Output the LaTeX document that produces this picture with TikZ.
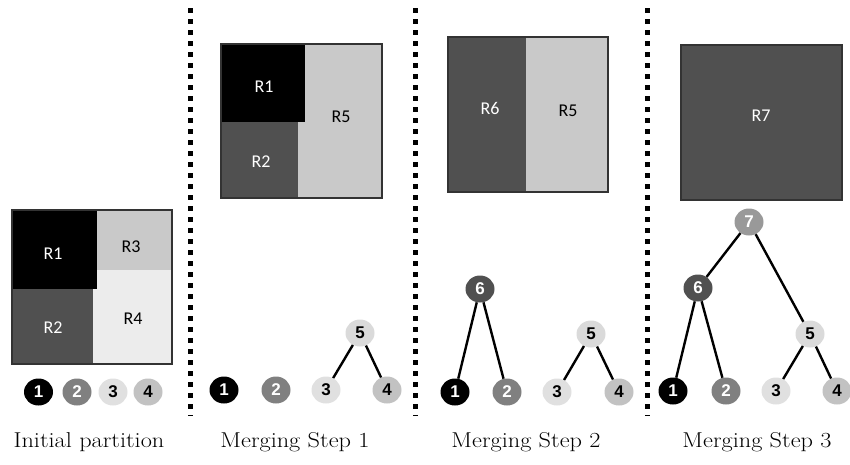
\documentclass[tikz,border=0pt]{standalone}
\usepackage{fontspec}
\newfontfamily\regionfont{Carlito}
\newfontfamily\digitfont{Liberation Sans}
\usetikzlibrary{shapes.geometric}
\definecolor{cBlack}{HTML}{000000}
\definecolor{cDark}{HTML}{505050}
\definecolor{cMid}{HTML}{808080}
\definecolor{cSeven}{HTML}{999999}
\definecolor{cLight}{HTML}{C9C9C9}
\definecolor{cPale}{HTML}{ECECEC}
\definecolor{cThree}{HTML}{E0E0E0}
\definecolor{cFour}{HTML}{C2C2C2}
\definecolor{cFive}{HTML}{DADADA}
\definecolor{cEdge}{HTML}{333333}
\newcommand{\capwide}[1]{\scalebox{1.13}[1]{#1}}
\tikzset{
  region/.style={inner sep=0pt, font=\regionfont\fontsize{18}{18}\selectfont},
  frame/.style={draw=cEdge, line width=1.4pt},
  tnode/.style={ellipse, minimum width=29pt, minimum height=27pt, inner sep=0pt,
    font=\digitfont\bfseries\fontsize{17}{17}\selectfont},
  edge/.style={line width=2.4pt, black},
  sep/.style={line width=5pt, dash pattern=on 5pt off 6pt, black},
  caption/.style={font=\fontsize{21.5}{24}\selectfont, anchor=base}
}
\begin{document}
\begin{tikzpicture}[x=1pt, y=-1pt]
\useasboundingbox (0,0) rectangle (850,464);

% separators between the four stages
\foreach \sx/\nm in {190/a, 415/b, 647/c} {
  \coordinate (sep\nm top) at (\sx,8);
  \coordinate (sep\nm bot) at (\sx,416);
  \draw[sep] (sep\nm top) -- (sep\nm bot);
}

% ---------- initial partition ----------
\fill[cPale] (93,270) rectangle (172,364);
\fill[cLight] (97,210) rectangle (172,270);
\fill[cDark] (12,289) rectangle (93,364);
\fill[cBlack] (12,210) rectangle (97,289);
\draw[frame] (12,210) rectangle (172,364);
\node[region, white] (iR1) at (53,254) {R1};
\node[region, black] (iR3) at (131,247) {R3};
\node[region, white] (iR2) at (53,328) {R2};
\node[region, black] (iR4) at (133,319) {R4};

\node[tnode, fill=cBlack, text=white] (i1) at (38.5,392) {1};
\node[tnode, fill=cMid, text=white] (i2) at (77,392) {2};
\node[tnode, fill=cThree, text=black] (i3) at (113,392) {3};
\node[tnode, fill=cFour, text=black] (i4) at (148,392) {4};
\node[caption] (capA) at (89,447) {\capwide{Initial partition}};

% ---------- merging step 1 ----------
\fill[cLight] (298,44) rectangle (382,198);
\fill[cDark] (221,122) rectangle (298,198);
\fill[cBlack] (221,44) rectangle (305,122);
\draw[frame] (221,44) rectangle (382,198);
\node[region, white] (aR1) at (264,87) {R1};
\node[region, white] (aR2) at (261,162) {R2};
\node[region, black] (aR5) at (341,117) {R5};

\node[tnode, fill=cBlack, text=white] (a1) at (224,390) {1};
\node[tnode, fill=cMid, text=white] (a2) at (276,390) {2};
\node[tnode, fill=cThree, text=black] (a3) at (326,390) {3};
\node[tnode, fill=cFour, text=black] (a4) at (387,390) {4};
\node[tnode, fill=cFive, text=black] (a5) at (360,333) {5};
\draw[edge] (a5) -- (a3);
\draw[edge] (a5) -- (a4);
\node[caption] (capB) at (295,447) {\capwide{Merging Step 1}};

% ---------- merging step 2 ----------
\fill[cLight] (526,37) rectangle (608,192);
\fill[cDark] (448,37) rectangle (526,192);
\draw[frame] (448,37) rectangle (608,192);
\node[region, white] (bR6) at (490,108) {R6};
\node[region, black] (bR5) at (568,111) {R5};

\node[tnode, fill=cBlack, text=white] (b1) at (455,392) {1};
\node[tnode, fill=cMid, text=white] (b2) at (507,392) {2};
\node[tnode, fill=cThree, text=black] (b3) at (557,392) {3};
\node[tnode, fill=cFour, text=black] (b4) at (619,392) {4};
\node[tnode, fill=cFive, text=black] (b5) at (591,334) {5};
\node[tnode, fill=cDark, text=white] (b6) at (480,289) {6};
\draw[edge] (b6) -- (b1);
\draw[edge] (b6) -- (b2);
\draw[edge] (b5) -- (b3);
\draw[edge] (b5) -- (b4);
\node[caption] (capC) at (526,447) {\capwide{Merging Step 2}};

% ---------- merging step 3 ----------
\fill[cDark] (681,45) rectangle (842,200);
\draw[frame] (681,45) rectangle (842,200);
\node[region, white] (cR7) at (761,116) {R7};

\node[tnode, fill=cBlack, text=white] (c1) at (673,391) {1};
\node[tnode, fill=cMid, text=white] (c2) at (726,391) {2};
\node[tnode, fill=cThree, text=black] (c3) at (776,391) {3};
\node[tnode, fill=cFour, text=black] (c4) at (837,391) {4};
\node[tnode, fill=cFive, text=black] (c5) at (810,334) {5};
\node[tnode, fill=cDark, text=white] (c6) at (698,288) {6};
\node[tnode, fill=cSeven, text=white] (c7) at (749,222) {7};
\draw[edge] (c6) -- (c1);
\draw[edge] (c6) -- (c2);
\draw[edge] (c5) -- (c3);
\draw[edge] (c5) -- (c4);
\draw[edge] (c7) -- (c6);
\draw[edge] (c7) -- (c5);
\node[caption] (capD) at (757,447) {\capwide{Merging Step 3}};
\end{tikzpicture}
\end{document}
